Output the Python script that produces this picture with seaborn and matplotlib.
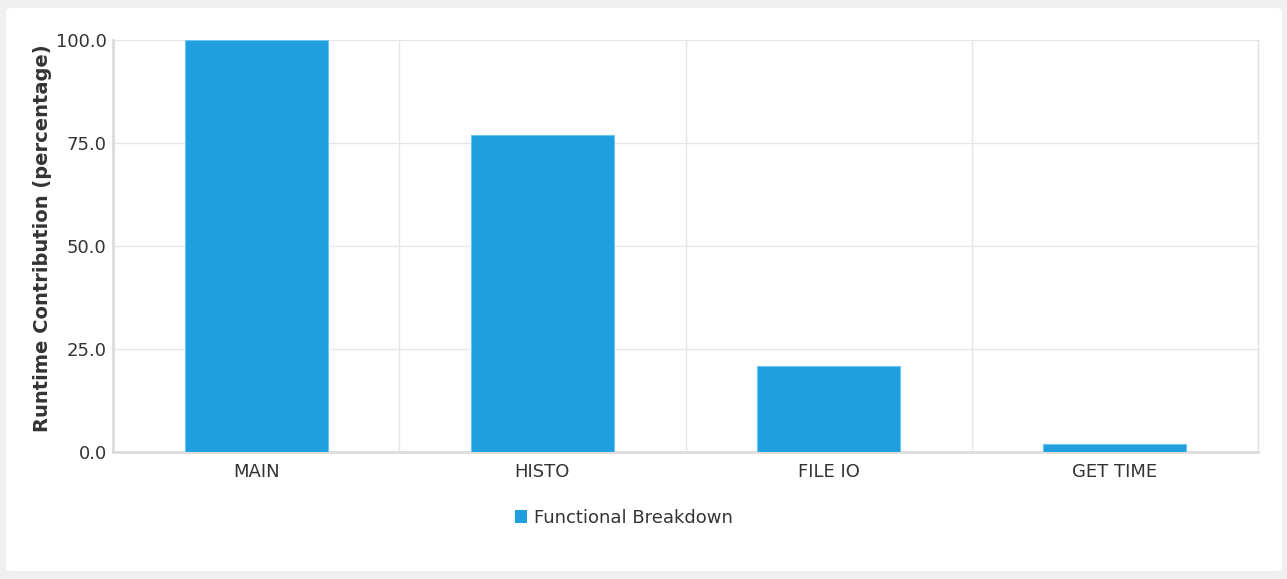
import matplotlib
matplotlib.use("Agg")
import matplotlib.pyplot as plt
import seaborn as sns
import pandas as pd
from matplotlib.patches import FancyBboxPatch, Patch

categories = ["MAIN", "HISTO", "FILE IO", "GET TIME"]
values = [100.0, 76.9, 20.9, 1.9]
series_name = "Functional Breakdown"
y_ticks = [0.0, 25.0, 50.0, 75.0, 100.0]

df = pd.DataFrame({"cat": categories, "val": values})

sns.set_style("white")
plt.rcParams['font.family'] = ['DejaVu Sans']

fig = plt.figure(figsize=(12.87, 5.79), dpi=100, facecolor="#f0f0f0")
panel = FancyBboxPatch((6/1287, 8/579), (1282-6)/1287, (571-8)/579,
                       boxstyle="round,pad=0,rounding_size=0.006",
                       transform=fig.transFigure, facecolor="white",
                       edgecolor="none", zorder=-10)
fig.add_artist(panel)

ax = fig.add_axes([113/1287, 1-452/579, (1258-113)/1287, (452-40)/579])
ax.set_zorder(1)
ax.set_facecolor("none")
color = "#1f9fdd"
sns.barplot(data=df, x="cat", y="val", color=color, width=0.5, ax=ax,
            edgecolor="#6cc6f2", linewidth=0.8, saturation=1, zorder=3)

ax.set_xlim(-0.5, len(categories) - 0.5)
ax.set_ylim(0, 100)
ax.set_yticks(y_ticks)
ax.set_yticklabels([f"{t:.1f}" for t in y_ticks])
ax.set_xticks(range(len(categories)))
ax.set_xticks([i + 0.5 for i in range(len(categories) - 1)], minor=True)
ax.set_axisbelow(True)
ax.grid(True, axis="y", color="#e6e6e6", linewidth=1)
ax.grid(True, axis="x", which="minor", color="#e6e6e6", linewidth=1)
ax.tick_params(axis="x", which="major", length=0, pad=8, labelsize=13, labelcolor="#333333")
ax.tick_params(axis="x", which="minor", length=6, color="#e0e0e0", width=1)
ax.tick_params(axis="y", length=4, color="#dddddd", width=1, pad=0.5, labelsize=13, labelcolor="#333333")

ax.spines["top"].set_visible(False)
ax.spines["right"].set_color("#e0e0e0")
ax.spines["right"].set_linewidth(1)
ax.spines["left"].set_color("#dcdcdc")
ax.spines["left"].set_linewidth(2)
ax.spines["bottom"].set_color("#dcdcdc")
ax.spines["bottom"].set_linewidth(2)

ax.set_xlabel("")
ax.set_ylabel("Runtime Contribution (percentage)", fontsize=14, fontweight="bold",
              color="#333333", labelpad=3)
ax.yaxis.label.set_y(0.52)

handles = [Patch(facecolor=color, edgecolor="none")]
fig.legend(handles, [series_name], loc="center", bbox_to_anchor=(624/1287, 1-518/579),
           frameon=False, fontsize=13, handlelength=0.7, handleheight=0.7,
           handletextpad=0.4, labelcolor="#333333")

fig.savefig("out.png", dpi=100, facecolor=fig.get_facecolor())
